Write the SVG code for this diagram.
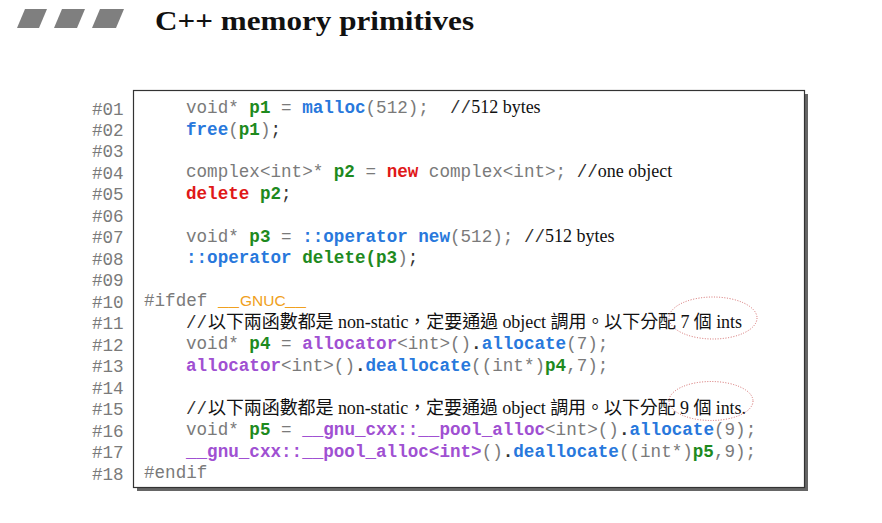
<svg xmlns="http://www.w3.org/2000/svg" width="882" height="523" viewBox="0 0 882 523">
<style>
text{white-space:pre}
.mono{font-family:"Liberation Mono","Courier New",monospace;font-size:17.6px;fill:#7a7a7a}
.num{font-family:"Liberation Mono","Courier New",monospace;font-size:17.6px;fill:#7a7a7a}
.b{font-weight:bold}
.g{fill:#1e8a1e;font-weight:bold}
.bl{fill:#2878dc;font-weight:bold}
.r{fill:#e01818;font-weight:bold}
.pu{fill:#a050d2;font-weight:bold}
.or{fill:#f0a020}
.k{fill:#333}
.cm{font-family:"Liberation Serif","Noto Sans CJK TC",serif;font-size:18px;fill:#111}
.ring{fill:none;stroke:#d46a6a;stroke-width:1;stroke-dasharray:1 1.6}
.para{fill:#7f7f7f}
</style>
<g id="header">
<polygon class="para" points="17,28 39,28 47,9 25,9"/>
<polygon class="para" points="54,28 77,28 85,9 62,9"/>
<polygon class="para" points="92,28 116,28 124,9 100,9"/>
<text x="155" y="30" font-family="'Liberation Serif',serif" font-weight="bold" font-size="27.5" textLength="319" lengthAdjust="spacingAndGlyphs" fill="#111">C++ memory primitives</text>
</g>
<g id="codebox">
<rect x="137" y="94" width="671" height="397" fill="#666"/>
<rect x="133.5" y="90.5" width="671" height="397" fill="#fff" stroke="#333" stroke-width="1.2"/>
</g>
<g id="line-numbers" class="num">
<text x="92" y="114.5">#01</text>
<text x="92" y="136">#02</text>
<text x="92" y="157.4">#03</text>
<text x="92" y="178.9">#04</text>
<text x="92" y="200.4">#05</text>
<text x="92" y="221.9">#06</text>
<text x="92" y="243.3">#07</text>
<text x="92" y="264.8">#08</text>
<text x="92" y="286.3">#09</text>
<text x="92" y="307.7">#10</text>
<text x="92" y="329.2">#11</text>
<text x="92" y="350.7">#12</text>
<text x="92" y="372.1">#13</text>
<text x="92" y="393.6">#14</text>
<text x="92" y="415.1">#15</text>
<text x="92" y="436.6">#16</text>
<text x="92" y="458">#17</text>
<text x="92" y="479.5">#18</text>
</g>
<g id="code" class="mono">
<text x="186" y="113">void* <tspan class="g">p1</tspan> = <tspan class="bl">malloc</tspan>(512);  <tspan class="k">//</tspan><tspan class="cm">512 bytes</tspan></text>
<text x="186" y="134.5"><tspan class="bl">free</tspan>(<tspan class="g">p1</tspan>)<tspan class="k">;</tspan></text>
<text x="186" y="177.4">complex&lt;int&gt;* <tspan class="g">p2</tspan> = <tspan class="r">new</tspan> complex&lt;int&gt;; <tspan class="k">//</tspan><tspan class="cm">one object</tspan></text>
<text x="186" y="198.9"><tspan class="r">delete</tspan> <tspan class="g">p2</tspan><tspan class="k">;</tspan></text>
<text x="186" y="241.8">void* <tspan class="g">p3</tspan> = <tspan class="bl">::operator new</tspan>(512); <tspan class="k">//</tspan><tspan class="cm">512 bytes</tspan></text>
<text x="186" y="263.3"><tspan class="bl">::operator</tspan> <tspan class="g">delete(p3</tspan>)<tspan class="k">;</tspan></text>
<text x="144" y="306.2">#ifdef <tspan x="218" class="or">__</tspan><tspan x="240" class="or" font-family="'Liberation Sans',sans-serif" font-size="15.5">GNUC</tspan><tspan x="285" class="or">__</tspan></text>
<text x="186" y="327.7" class="k">//</text>
<text x="208" y="327.7" class="cm" textLength="534">以下兩函數都是 non-static，定要通過 object 調用。以下分配 7 個 ints</text>
<text x="186" y="349.2">void* <tspan class="g">p4</tspan> = <tspan class="pu">allocator</tspan>&lt;int&gt;()<tspan class="k b">.</tspan><tspan class="bl">allocate</tspan>(7);</text>
<text x="186" y="370.6"><tspan class="pu">allocator</tspan>&lt;int&gt;()<tspan class="k b">.</tspan><tspan class="bl">deallocate</tspan>((int*)<tspan class="g">p4</tspan>,7);</text>
<text x="186" y="413.6" class="k">//</text>
<text x="208" y="413.6" class="cm" textLength="538">以下兩函數都是 non-static，定要通過 object 調用。以下分配 9 個 ints.</text>
<text x="186" y="435.1">void* <tspan class="g">p5</tspan> = <tspan class="pu">__gnu_cxx::__pool_alloc</tspan>&lt;int&gt;()<tspan class="k b">.</tspan><tspan class="bl">allocate</tspan>(9);</text>
<text x="186" y="456.5"><tspan class="pu">__gnu_cxx::__pool_alloc&lt;int&gt;</tspan>()<tspan class="k b">.</tspan><tspan class="bl">deallocate</tspan>((int*)<tspan class="g">p5</tspan>,9);</text>
<text x="144" y="478">#endif</text>
</g>
<g id="annotations">
<ellipse class="ring" cx="713" cy="318" rx="44" ry="21"/>
<ellipse class="ring" cx="711" cy="401" rx="42" ry="19.5"/>
</g>
</svg>
